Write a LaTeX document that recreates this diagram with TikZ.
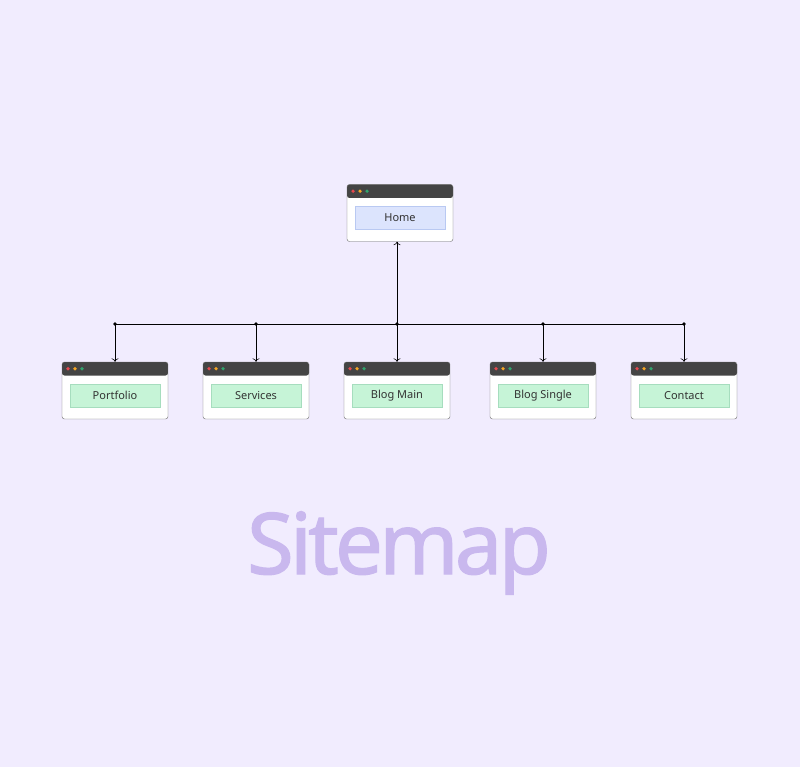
\documentclass[tikz,border=0pt]{standalone}
\usepackage{fontspec}
\setmainfont{Noto Sans}
\newfontfamily\titlefont[LetterSpace=-4.5,FakeBold=1.4]{Noto Sans}
\usetikzlibrary{positioning,arrows.meta}
\definecolor{pagebg}{HTML}{F1ECFE}
\definecolor{framegray}{HTML}{6A6A6A}
\definecolor{headgray}{HTML}{444444}
\definecolor{dotred}{HTML}{E5484D}
\definecolor{dotorange}{HTML}{F5A524}
\definecolor{dotgreen}{HTML}{30A46C}
\definecolor{homefill}{HTML}{DCE4FD}
\definecolor{homeedge}{HTML}{B9C9F2}
\definecolor{pagefill}{HTML}{C6F4D7}
\definecolor{pageedge}{HTML}{A6DDBE}
\definecolor{titlecol}{HTML}{C9B8EE}
\definecolor{textcol}{HTML}{333333}
\tikzstyle{window} = [rectangle,rounded corners=2.5pt,draw=framegray,thin,fill=white,
  minimum width=106pt,minimum height=57pt,
  path picture={
    \fill[headgray] (path picture bounding box.north west) rectangle
      ([yshift=-13.5pt]path picture bounding box.north east);
    \foreach \dx/\c in {6/dotred,13/dotorange,20/dotgreen}
      \fill[\c] ([xshift=\dx pt,yshift=-6.7pt]path picture bounding box.north west) circle (1.8pt);
  }]
\tikzstyle{label} = [rectangle,draw,thin,minimum width=90pt,minimum height=23pt,
  inner sep=0pt,font=\fontsize{11}{13}\selectfont,text=textcol]
\tikzstyle{homelabel} = [label,fill=homefill,draw=homeedge]
\tikzstyle{pagelabel} = [label,fill=pagefill,draw=pageedge]
\tikzstyle{line} = [draw,-{To[length=3.5pt,width=7pt]},semithick]

\begin{document}
\begin{tikzpicture}[x=1pt,y=-1pt]
    \useasboundingbox[fill=pagebg] (0,0) rectangle (800,767);
    % home page
    \node[window] (home) at (400,213) {};
    \node[homelabel] (home-lbl) at (400,217.5) {Home};
    \coordinate (hub) at (397,324);
    \path[line] (hub) -- (hub |- home.south);
    % child pages
    \foreach \name/\x/\txt in {portfolio/115/Portfolio,services/256/Services,
        blogmain/397/Blog Main,blogsingle/543/Blog Single,contact/684/Contact} {
        \node[window] (\name) at (\x,390.5) {};
        \node[pagelabel] (\name-lbl) at (\x,395.5) {\txt};
        \coordinate (j-\name) at (\x,324);
        \path[line] (j-\name) -- (\name.north);
        \fill (j-\name) circle (1.8pt);
    }
    \draw[semithick] (j-portfolio) -- (j-contact);
    % title
    \node[anchor=base,text=titlecol,font=\titlefont\fontsize{85}{88}\selectfont] (title) at (399,574) {Sitemap};
\end{tikzpicture}
\end{document}
